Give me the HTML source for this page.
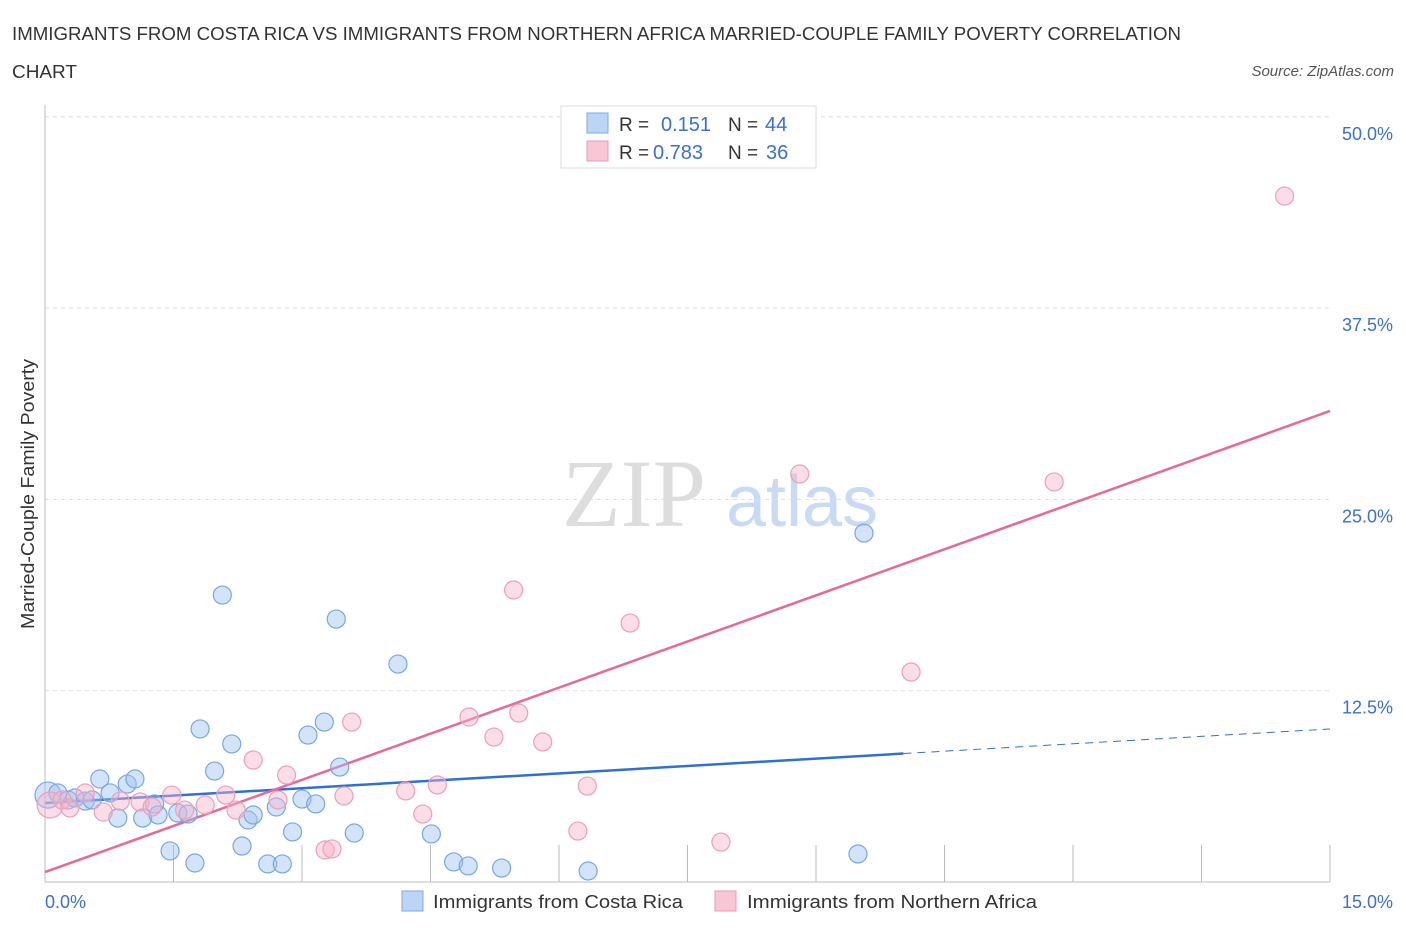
<!DOCTYPE html>
<html><head><meta charset="utf-8"><style>
body{margin:0;background:#fff;font-family:"Liberation Sans",sans-serif;}
</style></head><body>
<svg id="chart" width="1406" height="930" xmlns="http://www.w3.org/2000/svg" font-family="Liberation Sans, sans-serif">
<text x="12" y="40" font-size="18" fill="#333" textLength="1169" lengthAdjust="spacingAndGlyphs">IMMIGRANTS FROM COSTA RICA VS IMMIGRANTS FROM NORTHERN AFRICA MARRIED-COUPLE FAMILY POVERTY CORRELATION</text>
<text x="12" y="78" font-size="18" fill="#333" textLength="65" lengthAdjust="spacingAndGlyphs">CHART</text>
<text x="1394" y="76" font-size="15" fill="#555" text-anchor="end" font-style="italic">Source: ZipAtlas.com</text>
<g>
<text x="634" y="526" font-size="96" style="font-family:'Liberation Serif',serif" fill="#ddd" text-anchor="middle">ZIP</text>
<text x="802" y="526" font-size="72" fill="#c8daf4" text-anchor="middle">atlas</text>
</g>
<g id="grid"></g>
<g id="axes"></g>
<g id="trends"></g>
<g id="points"></g>
<g>
<rect x="561" y="106" width="255" height="62" fill="#fff" stroke="#ddd"/>
<rect x="587" y="113" width="21" height="20" fill="#bcd4f6" stroke="#7fa8e6"/>
<text x="619" y="131" font-size="19" fill="#333">R = </text><text x="661" y="131" font-size="20" fill="#3b6fd4">0.151</text>
<text x="728" y="131" font-size="19" fill="#333">N = </text><text x="765" y="131" font-size="20" fill="#3b6fd4">44</text>
<rect x="587" y="141" width="21" height="20" fill="#f9c6d5" stroke="#e99ab4"/>
<text x="619" y="159" font-size="19" fill="#333">R = </text><text x="653" y="159" font-size="20" fill="#3b6fd4">0.783</text>
<text x="728" y="159" font-size="19" fill="#333">N = </text><text x="766" y="159" font-size="20" fill="#3b6fd4">36</text>
</g>
<g>
<rect x="402" y="891" width="21" height="20" fill="#bcd4f6" stroke="#7fa8e6"/>
<text x="433" y="908" font-size="18" fill="#333" textLength="250" lengthAdjust="spacingAndGlyphs">Immigrants from Costa Rica</text>
<rect x="715" y="891" width="21" height="20" fill="#f9c6d5" stroke="#e99ab4"/>
<text x="747" y="908" font-size="18" fill="#333" textLength="290" lengthAdjust="spacingAndGlyphs">Immigrants from Northern Africa</text>
</g>
<text transform="translate(34,494) rotate(-90)" font-size="18" fill="#333" text-anchor="middle" textLength="270" lengthAdjust="spacingAndGlyphs">Married-Couple Family Poverty</text>
<text x="45" y="908" font-size="18" fill="#3b6fd4">0.0%</text>
<text x="1393" y="908" font-size="18" fill="#3b6fd4" text-anchor="end">15.0%</text>
</svg>
<script>
const blueX=[0.035,0.15,0.27,0.35,0.47,0.55,0.64,0.76,0.85,0.96,1.05,1.14,1.28,1.32,1.46,1.55,1.67,1.75,1.81,1.98,2.07,2.18,2.30,2.37,2.43,2.60,2.70,2.77,2.89,3.00,3.07,3.16,3.26,3.40,3.44,3.61,4.12,4.51,4.77,4.94,5.33,6.34,9.49,9.56];
const blueY=[5.68,5.82,5.36,5.49,5.29,5.36,6.73,5.82,4.18,6.40,6.73,4.18,5.10,4.38,2.03,4.51,4.44,1.24,10.00,7.25,18.75,9.02,2.35,4.05,4.38,1.18,4.90,1.18,3.27,5.42,9.60,5.10,10.45,17.18,7.51,3.20,14.24,3.14,1.31,1.05,0.91,0.72,1.83,22.80];
const pinkX=[0.06,0.20,0.29,0.47,0.68,0.88,1.11,1.25,1.48,1.63,1.87,2.11,2.23,2.43,2.72,2.82,3.27,3.35,3.49,3.58,4.21,4.41,4.58,4.95,5.24,5.47,5.53,5.81,6.22,6.33,6.83,7.89,8.81,10.11,11.78,14.47];
const pinkY=[5.03,5.36,4.84,5.82,4.57,5.29,5.23,4.90,5.68,4.70,5.03,5.68,4.70,7.97,5.36,6.99,2.09,2.16,5.62,10.45,5.95,4.44,6.34,10.78,9.47,19.08,11.04,9.15,3.33,6.27,16.92,2.61,26.66,13.72,26.14,44.82];
const yTicks=[12.5,25,37.5,50];
const yTickLabels=["12.5%","25.0%","37.5%","50.0%"];
const xTicks=[1.5,3,4.5,6,7.5,9,10.5,12,13.5,15];
const blueTrend=[5.16,10.0]; // y at x=0 and x=15
const blueSolidEnd=[10.02];
const pinkTrend=[0.65,30.78];
const X=v=>45+v/15*1285, Y=v=>882-v/12.5*191.3;
const NS="http://www.w3.org/2000/svg";
function mk(t,a,p){const e=document.createElementNS(NS,t);for(const k in a)e.setAttribute(k,a[k]);p.appendChild(e);return e;}
const grid=document.getElementById('grid'),axes=document.getElementById('axes'),tr=document.getElementById('trends'),pts=document.getElementById('points');
yTicks.forEach((v,i)=>{
 const l=mk('line',{x1:45,x2:1330,y1:Y(v),y2:Y(v),stroke:'#ddd','stroke-dasharray':'4,4'},grid);
 
 
 const t=mk('text',{x:1393,y:Y(v)+23,'font-size':18,fill:'#3b6fd4','text-anchor':'end'},grid);
 t.textContent=yTickLabels[i];
 
 
});
mk('line',{x1:45,x2:45,y1:105,y2:882,stroke:'#bbb'},axes);
mk('line',{x1:45,x2:1330,y1:882,y2:882,stroke:'#bbb'},axes);
xTicks.forEach(v=>{const l=mk('line',{x1:X(v),x2:X(v),y1:845,y2:882,stroke:'#bbb'},axes);
 
 });
function draw(xs,ys,fill,stroke,name){xs.forEach((x,i)=>{const c=mk('circle',{cx:X(x),cy:Y(ys[i]),r:i===0?13:9,fill:fill,stroke:stroke,'stroke-width':1.2},pts);
 
 });}
draw(blueX,blueY,'rgba(160,195,240,0.45)','#78a6e4','point-costa-rica');
draw(pinkX,pinkY,'rgba(247,180,202,0.45)','#ee9fb9','point-northern-africa');
const bY=x=>blueTrend[0]+(blueTrend[1]-blueTrend[0])*x/15;
let l1=mk('line',{x1:X(0),y1:Y(bY(0)),x2:X(blueSolidEnd[0]),y2:Y(bY(blueSolidEnd[0])),stroke:'#2f6fd6','stroke-width':2.5},tr);


let l2=mk('line',{x1:X(blueSolidEnd[0]),y1:Y(bY(blueSolidEnd[0])),x2:X(15),y2:Y(bY(15)),stroke:'#2f6fd6','stroke-width':1,'stroke-dasharray':'8,6'},tr);


let l3=mk('line',{x1:X(0),y1:Y(pinkTrend[0]),x2:X(15),y2:Y(pinkTrend[1]),stroke:'#e8689a','stroke-width':2.5},tr);


</script>
</body></html>
